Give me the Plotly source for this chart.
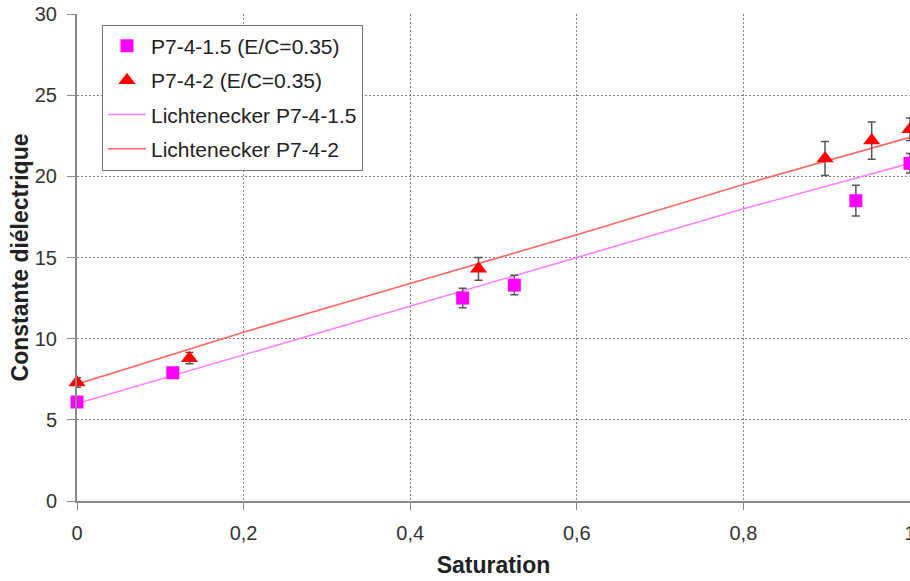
import plotly.graph_objects as go

# Data
sat_15 = [0.0, 0.115, 0.463, 0.525, 0.935, 1.0]
eps_15 = [6.1, 7.9, 12.5, 13.3, 18.5, 20.8]
err_15 = [0.3, 0.3, 0.6, 0.6, 0.95, 0.6]

sat_2 = [0.0, 0.135, 0.482, 0.898, 0.954, 1.0]
eps_2 = [7.3, 8.8, 14.3, 21.1, 22.2, 22.9]
err_2 = [0.3, 0.35, 0.7, 1.05, 1.15, 0.7]

sat_fit = [0.0, 0.2, 0.4, 0.6, 0.8, 1.0]
licht_15 = [6.0, 9.0, 12.0, 15.0, 18.0, 20.8]
licht_2 = [7.2, 10.4, 13.4, 16.4, 19.5, 22.4]

x_ticks = [0, 0.2, 0.4, 0.6, 0.8, 1.0]
x_tick_labels = ["0", "0,2", "0,4", "0,6", "0,8", "1"]
y_ticks = [0, 5, 10, 15, 20, 25, 30]

fig = go.Figure()
fig.add_trace(go.Scatter(
    x=sat_fit, y=licht_15, mode="lines", name="Lichtenecker P7-4-1.5",
    line=dict(color="#FF80FF", width=1.6), legendgroup="c", legendrank=3))
fig.add_trace(go.Scatter(
    x=sat_fit, y=licht_2, mode="lines", name="Lichtenecker P7-4-2",
    line=dict(color="#FF6666", width=1.6), legendgroup="d", legendrank=4))
fig.add_trace(go.Scatter(
    x=sat_15, y=eps_15, mode="markers", name="P7-4-1.5 (E/C=0.35)",
    marker=dict(symbol="square", size=13, color="#FF00FF"),
    error_y=dict(type="data", array=err_15, color="#555555", thickness=1.5, width=4),
    legendgroup="a", legendrank=1, cliponaxis=False))
fig.add_trace(go.Scatter(
    x=sat_2, y=eps_2, mode="markers", name="P7-4-2 (E/C=0.35)",
    marker=dict(symbol="triangle-up", size=15, color="#FF0000"),
    error_y=dict(type="data", array=err_2, color="#555555", thickness=1.5, width=4),
    legendgroup="b", legendrank=2, cliponaxis=False))

fig.update_layout(
    width=910, height=581,
    margin=dict(l=77, r=0, t=14, b=80, autoexpand=False),
    plot_bgcolor="white", paper_bgcolor="white",
    font=dict(family="Liberation Sans, Arial, sans-serif", size=20, color="#333333"),
    showlegend=True,
    legend=dict(
        x=0.03, y=0.978, xanchor="left", yanchor="top",
        bordercolor="#777777", borderwidth=1, bgcolor="white",
        font=dict(size=21, color="#222222"), tracegroupgap=4,
        traceorder="grouped", itemwidth=38,
    ),
    xaxis=dict(
        range=[0, 1.0], tickvals=x_ticks, ticktext=x_tick_labels,
        showgrid=True, gridcolor="#808080", griddash="2px,2px", gridwidth=1,
        showline=True, linecolor="#888888", linewidth=2,
        ticks="outside", ticklen=7, tickcolor="#888888", ticklabelstandoff=6,
        ticklabeloverflow="allow",
        zeroline=False, automargin=False, tickfont=dict(size=20),
        title=dict(text="<b>Saturation</b>", font=dict(size=23, color="#222222"), standoff=14),
    ),
    yaxis=dict(
        range=[0, 30], tickvals=y_ticks,
        showgrid=True, gridcolor="#808080", griddash="2px,2px", gridwidth=1,
        showline=True, linecolor="#888888", linewidth=2,
        ticks="outside", ticklen=8, tickcolor="#888888", ticklabelstandoff=6,
        ticklabeloverflow="allow",
        zeroline=False, automargin=False, tickfont=dict(size=20),
        title=dict(text="<b>Constante diélectrique</b>", font=dict(size=23, color="#222222"), standoff=0),
    ),
)

fig.write_html(
    "out.html",
    config={"displayModeBar": False},
    post_script="document.body.style.margin='0';document.body.style.overflow='hidden';",
)
